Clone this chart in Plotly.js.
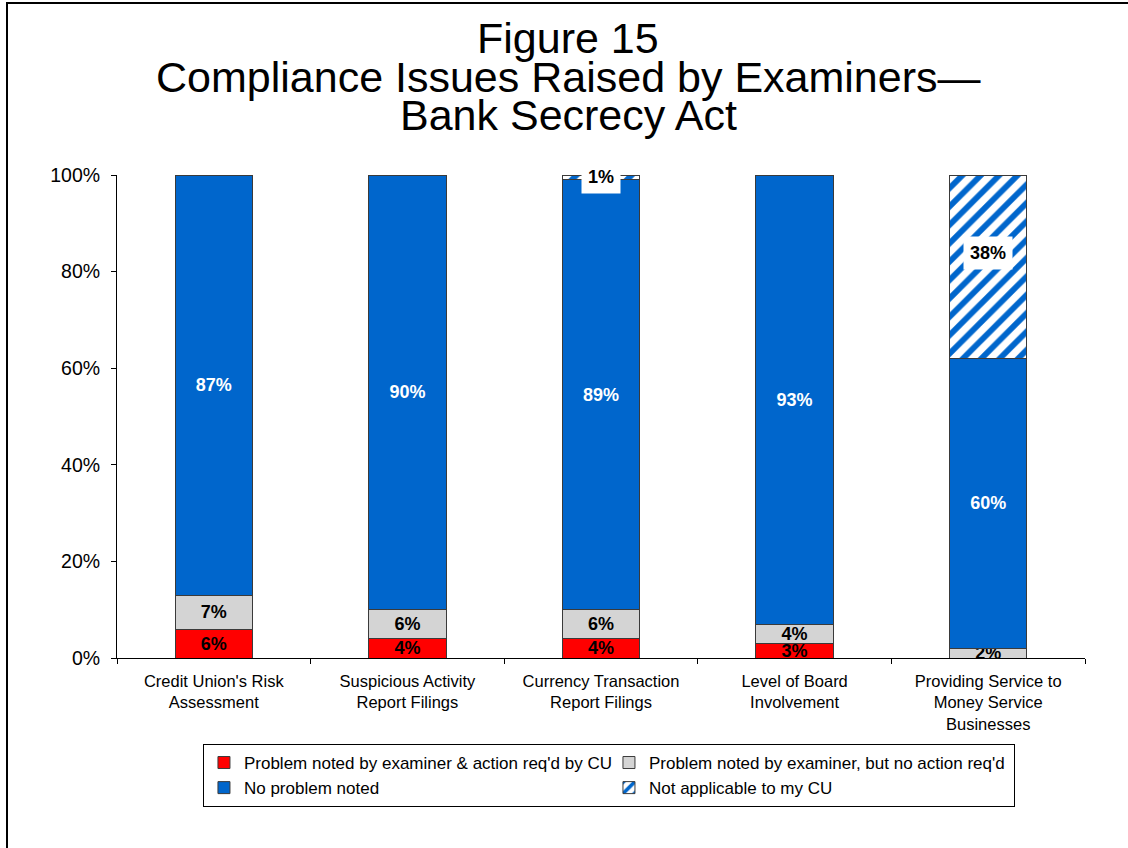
<!DOCTYPE html>
<html>
<head>
<meta charset="utf-8">
<script src="https://cdn.plot.ly/plotly-3.0.1.min.js"></script>
<style>html,body{margin:0;padding:0;background:#fff;}#chart{width:1128px;height:848px;}</style>
</head>
<body>
<div id="chart"></div>
<script>
var categories = ["Credit Union's Risk<br>Assessment", "Suspicious Activity<br>Report Filings", "Currency Transaction<br>Report Filings", "Level of Board<br>Involvement", "Providing Service to<br>Money Service<br>Businesses"];
var actionRequired = [6, 4, 4, 3, 0];
var noActionRequired = [7, 6, 6, 4, 2];
var noProblem = [87, 90, 89, 93, 60];
var notApplicable = [0, 0, 1, 0, 38];
var seriesNames = ["Problem noted by examiner & action req'd by CU", "Problem noted by examiner, but no action req'd", "No problem noted", "Not applicable to my CU"];
var yTickValues = [0, 20, 40, 60, 80, 100];
var yTickLabels = ["0%", "20%", "40%", "60%", "80%", "100%"];
var titleLines = ["Figure 15", "Compliance Issues Raised by Examiners\u2014", "Bank Secrecy Act"];

var FONT = "Liberation Sans, Arial, sans-serif";
var BLUE = "#0066CC";
function labels(arr){ return arr.map(function(v){ return v > 0 ? v + "%" : ""; }); }
var outline = {color: "#3a3a3a", width: 1};

var traces = [
  {type: "bar", name: seriesNames[0], x: categories, y: actionRequired, text: labels(actionRequired),
   marker: {color: "#FF0000", line: outline}, textfont: {color: "#000", size: 18, family: FONT, weight: "bold"}},
  {type: "bar", name: seriesNames[1], x: categories, y: noActionRequired, text: labels(noActionRequired),
   marker: {color: "#D4D4D4", line: outline}, textfont: {color: "#000", size: 18, family: FONT, weight: "bold"}},
  {type: "bar", name: seriesNames[2], x: categories, y: noProblem, text: labels(noProblem),
   marker: {color: BLUE, line: outline}, textfont: {color: "#fff", size: 18, family: FONT, weight: "bold"}},
  {type: "bar", name: seriesNames[3], x: categories, y: notApplicable, text: notApplicable.map(function(){return "";}),
   marker: {color: "#fff", line: outline, pattern: {shape: "/", fgcolor: BLUE, bgcolor: "#fff", size: 13, solidity: 0.45, fillmode: "replace"}}}
];
traces.forEach(function(t){
  t.textposition = "inside"; t.insidetextanchor = "middle"; t.width = 0.4; t.hoverinfo = "none";
  t.constraintext = "none";
});

var annotations = [];
var titleY = [1.2836, 1.2029, 1.1242];
titleLines.forEach(function(line, i){
  annotations.push({xref: "paper", yref: "paper", x: 0.466, y: titleY[i], xanchor: "center", yanchor: "middle",
    text: line, showarrow: false, font: {family: FONT, size: 43, color: "#000"}});
});
// Not applicable labels with white background
categories.forEach(function(c, i){
  var v = notApplicable[i];
  if (v > 0) {
    var base = actionRequired[i] + noActionRequired[i] + noProblem[i];
    annotations.push({x: c, y: base + v / 2, xref: "x", yref: "y", text: "<b>" + v + "%</b>", showarrow: false,
      bgcolor: "#fff", borderpad: 6, yshift: v > 5 ? 14 : 0,
      font: {family: FONT, size: 18, color: "#000"}});
  }
});

var layout = {
  width: 1128, height: 848,
  margin: {l: 117, r: 43, t: 175, b: 190},
  paper_bgcolor: "#fff", plot_bgcolor: "#fff",
  barmode: "stack",
  showlegend: true,
  font: {family: FONT, color: "#000"},
  uniformtext: {mode: "show", minsize: 18},
  xaxis: {type: "category", showline: true, linecolor: "#000", linewidth: 1, ticks: "outside", tickson: "boundaries",
    ticklen: 5, tickcolor: "#000", showgrid: false, zeroline: false, ticklabelstandoff: 8,
    tickfont: {family: FONT, size: 16.5, color: "#000"}},
  yaxis: {range: [0, 100], tickvals: yTickValues, ticktext: yTickLabels, showline: true, linecolor: "#000", linewidth: 1,
    ticks: "outside", ticklen: 5, tickcolor: "#000", showgrid: false, zeroline: false, ticklabelstandoff: 7,
    tickfont: {family: FONT, size: 19.5, color: "#000"}},
  legend: {orientation: "h", x: 0.0888, y: -0.178, xanchor: "left", yanchor: "top", traceorder: "normal",
    entrywidth: 360, bordercolor: "#000", borderwidth: 1, bgcolor: "#fff",
    font: {family: FONT, size: 17, color: "#000"}},
  annotations: annotations,
  shapes: [{type: "rect", xref: "paper", yref: "paper", x0: (7 - 117) / 968, x1: 1.2, y0: -0.6, y1: (658 - 3) / 483,
    line: {color: "#000", width: 2}, fillcolor: "rgba(0,0,0,0)", layer: "below"}]
};

Plotly.newPlot("chart", traces, layout, {displayModeBar: false, staticPlot: true});
</script>
</body>
</html>
